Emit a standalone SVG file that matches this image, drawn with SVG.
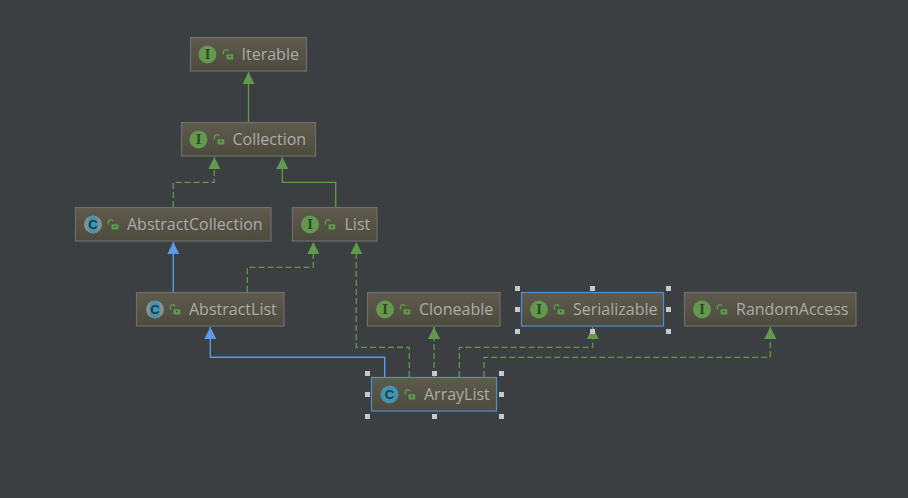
<svg xmlns="http://www.w3.org/2000/svg" width="908" height="498" viewBox="0 0 908 498">
<style>
.box{fill:url(#g);stroke:#6f6e69;stroke-width:1.2}
.sel{stroke:#4f8fd0}
text{font-family:"Open Sans","Liberation Sans",sans-serif;font-size:16px;fill:#a9adaa}
.ic{font-family:"DejaVu Serif",serif;font-size:12px;font-weight:bold;text-anchor:middle;fill:#2c4a25}
.cc{font-family:"Liberation Sans",sans-serif;font-size:13px;font-weight:bold;text-anchor:middle;fill:#123f52}
.i{fill:#64984f}
.c{fill:#4494ad}
.gr{fill:none;stroke:#5f9a4e;stroke-width:1.3}
.bl{fill:none;stroke:#5a9ae6;stroke-width:1.4}
.d{stroke-dasharray:6 3}
.h{fill:#c8c8c8}
</style>
<defs>
<linearGradient id="g" x1="0" y1="0" x2="0" y2="1"><stop offset="0" stop-color="#5f5a4e"/><stop offset="1" stop-color="#4d4a3e"/></linearGradient>
<marker id="ag" markerUnits="userSpaceOnUse" markerWidth="12" markerHeight="13" refX="12" refY="6" orient="auto"><path d="M0 0L12 6L0 12Z" fill="#5f9a4e"/></marker>
<marker id="ab" markerUnits="userSpaceOnUse" markerWidth="12" markerHeight="13" refX="12" refY="6" orient="auto"><path d="M0 0L12 6L0 12Z" fill="#5a9ae6"/></marker>
<g id="lock"><path d="M-4.600 -0.500V-3a2.500 2.500 0 0 1 4.800 -0.800" fill="none" stroke="#5f9a4e" stroke-width="1.400"/><rect x="-1.500" y="-0.800" width="6.800" height="5.300" rx="1" fill="#5f9a4e"/><rect x="1.100" y="0.900" width="1.500" height="1.500" fill="#2f4a2a"/></g>
</defs>
<rect width="908" height="498" fill="#3c3f41"/>
<g id="connectors">
<path class="gr" marker-end="url(#ag)" d="M248.500 122V72"/>
<path class="gr d" marker-end="url(#ag)" d="M173.300 207V182.300H214.300V157"/>
<path class="gr" marker-end="url(#ag)" d="M335.700 207V182.300H282.300V157"/>
<path class="bl" marker-end="url(#ab)" d="M173.300 292V242"/>
<path class="gr d" marker-end="url(#ag)" d="M247.300 292V267.300H313.300V242"/>
<path class="gr d" marker-end="url(#ag)" d="M409.300 377V347.300H356.300V242"/>
<path class="bl" marker-end="url(#ab)" d="M384.700 377V357.300H210.300V327"/>
<path class="gr d" marker-end="url(#ag)" d="M434 377V327"/>
<path class="gr d" marker-end="url(#ag)" d="M459.300 377V347.300H592.700V327"/>
<path class="gr d" marker-end="url(#ag)" d="M484 377V357.300H770.300V327"/>
</g>
<g id="Iterable"><rect class="box" x="190.500" y="37.500" width="116" height="33.500"/><circle class="i" cx="207.500" cy="54.500" r="9"/><text class="ic" x="207.500" y="58.800">I</text><use href="#lock" x="228" y="55"/><text x="241.500" y="60">Iterable</text></g>
<g id="Collection"><rect class="box" x="181.500" y="122.500" width="134" height="33.500"/><circle class="i" cx="198.500" cy="139.500" r="9"/><text class="ic" x="198.500" y="143.800">I</text><use href="#lock" x="219" y="140"/><text x="232.500" y="145">Collection</text></g>
<g id="AbstractCollection"><rect class="box" x="75.500" y="207.500" width="195.500" height="33.500"/><circle cx="93" cy="224.500" r="9" fill="#8a8f90"/><ellipse class="c" cx="93" cy="224.500" rx="5.500" ry="9"/><text class="cc" x="93" y="229">C</text><use href="#lock" x="113" y="225"/><text x="127" y="230">AbstractCollection</text></g>
<g id="List"><rect class="box" x="292.500" y="207.500" width="84.500" height="33.500"/><circle class="i" cx="310" cy="224.500" r="9"/><text class="ic" x="310" y="228.800">I</text><use href="#lock" x="330" y="225"/><text x="344.500" y="230">List</text></g>
<g id="AbstractList"><rect class="box" x="136.500" y="292.500" width="147.500" height="33.500"/><circle cx="155" cy="309.500" r="9" fill="#8a8f90"/><ellipse class="c" cx="155" cy="309.500" rx="5.500" ry="9"/><text class="cc" x="155" y="314">C</text><use href="#lock" x="175" y="310"/><text x="189" y="315">AbstractList</text></g>
<g id="Cloneable"><rect class="box" x="367.500" y="292.500" width="132.500" height="33.500"/><circle class="i" cx="385" cy="309.500" r="9"/><text class="ic" x="385" y="313.800">I</text><use href="#lock" x="405" y="310"/><text x="419" y="315">Cloneable</text></g>
<g id="Serializable"><rect class="box sel" x="521.500" y="292.500" width="142" height="33.500"/><circle class="i" cx="539" cy="309.500" r="9"/><text class="ic" x="539" y="313.800">I</text><use href="#lock" x="559" y="310"/><text x="573" y="315">Serializable</text>
<g class="h"><rect x="515" y="286" width="5" height="5"/><rect x="590" y="286" width="5" height="5"/><rect x="666" y="286" width="5" height="5"/><rect x="515" y="307" width="5" height="5"/><rect x="666" y="307" width="5" height="5"/><rect x="515" y="329" width="5" height="5"/><rect x="590" y="329" width="5" height="5"/><rect x="666" y="329" width="5" height="5"/></g></g>
<g id="RandomAccess"><rect class="box" x="684.500" y="292.500" width="171.500" height="33.500"/><circle class="i" cx="702" cy="309.500" r="9"/><text class="ic" x="702" y="313.800">I</text><use href="#lock" x="722" y="310"/><text x="736" y="315">RandomAccess</text></g>
<g id="ArrayList"><rect class="box sel" x="371.500" y="377.500" width="125" height="33.500"/><circle class="c" cx="389.500" cy="394.500" r="9"/><text class="cc" x="389.500" y="399">C</text><use href="#lock" x="410" y="395"/><text x="424" y="400">ArrayList</text>
<g class="h"><rect x="365" y="371" width="5" height="5"/><rect x="432" y="371" width="5" height="5"/><rect x="499" y="371" width="5" height="5"/><rect x="365" y="392" width="5" height="5"/><rect x="499" y="392" width="5" height="5"/><rect x="365" y="414" width="5" height="5"/><rect x="432" y="414" width="5" height="5"/><rect x="499" y="414" width="5" height="5"/></g></g>
</svg>
